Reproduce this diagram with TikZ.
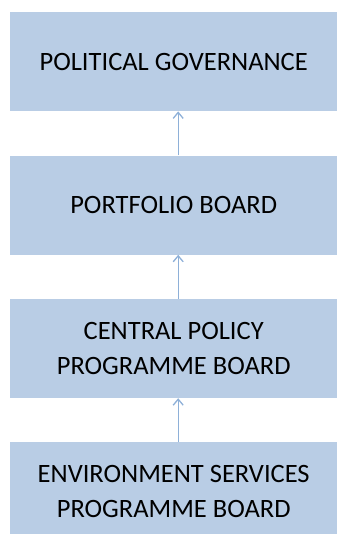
\documentclass[tikz,border=0pt]{standalone}
\usepackage{fontspec}
\setmainfont{Carlito}
\usetikzlibrary{positioning,arrows.meta}
\definecolor{boxblue}{HTML}{B9CDE5}
\definecolor{arrowblue}{HTML}{8EB0D8}

\begin{document}
\begin{tikzpicture}[node distance=44pt, x=1pt, y=1pt,
    level/.style={fill=boxblue, minimum width=327pt, minimum height=99pt, inner sep=0pt,
        align=center, font=\fontsize{26.5}{35}\selectfont},
    up/.style={-{Straight Barb[length=6pt,width=10pt]}, arrowblue, line width=1.3pt}]
        \useasboundingbox (0,0) rectangle (337,-534);
        \node[level, anchor=north west] (governance) at (10,-12) {POLITICAL GOVERNANCE};
        \node[level, below=of governance] (portfolio) {PORTFOLIO BOARD};
        \node[level, below=of portfolio] (central) {CENTRAL POLICY\\PROGRAMME BOARD};
        \node[level, below=of central] (environment) {ENVIRONMENT SERVICES\\PROGRAMME BOARD};

        % arrows sit a little right of centre
        \draw[up] ([xshift=4.5pt]portfolio.north) -- ([xshift=4.5pt]governance.south);
        \draw[up] ([xshift=4.5pt]central.north) -- ([xshift=4.5pt]portfolio.south);
        \draw[up] ([xshift=4.5pt]environment.north) -- ([xshift=4.5pt]central.south);
    \end{tikzpicture}
\end{document}
